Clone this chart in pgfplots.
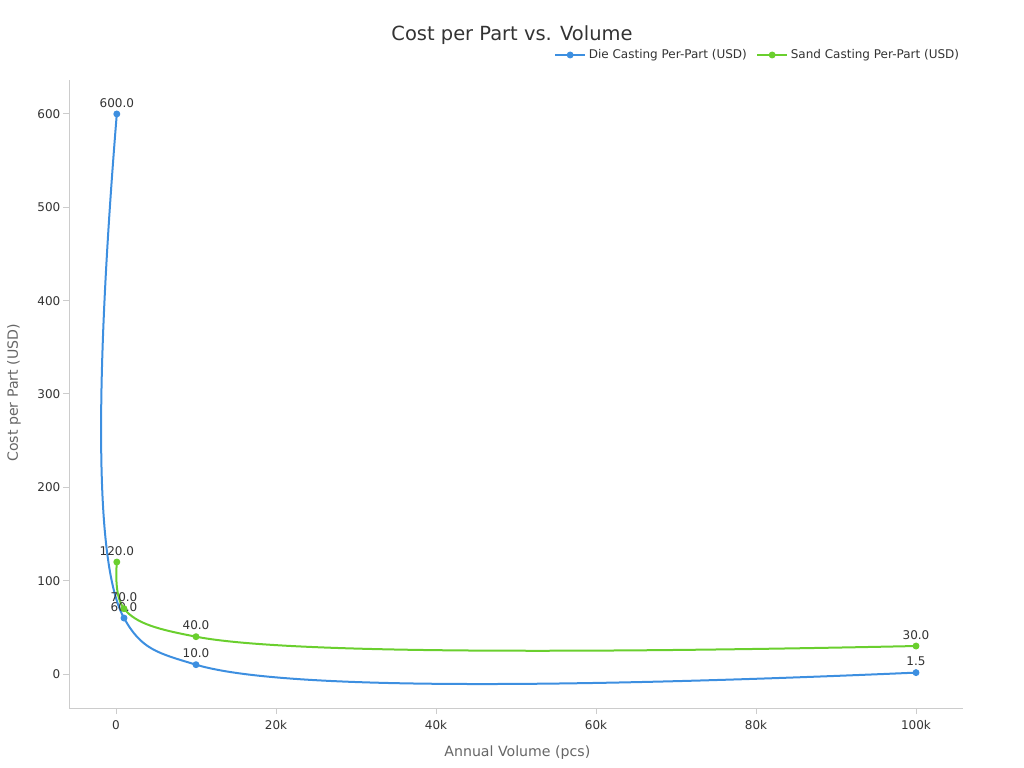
\documentclass[border=0pt]{standalone}
\usepackage{fontspec}
\setmainfont{DejaVu Sans}
\usepackage{pgfplots}
\pgfplotsset{compat=1.18}
\definecolor{dieblue}{HTML}{3D8FE0}
\definecolor{sandgreen}{HTML}{6ACF2E}
\definecolor{axgray}{HTML}{CCCCCC}
\definecolor{txt}{HTML}{333333}
\definecolor{lbl}{HTML}{666666}

% centripetal Catmull-Rom plot handler (same curve shape as the original chart's spline)
\makeatletter
\ExplSyntaxOn
\seq_new:N \g_ps_x_seq
\seq_new:N \g_ps_y_seq
\seq_new:N \g_ps_inx_seq
\seq_new:N \g_ps_iny_seq
\seq_new:N \g_ps_outx_seq
\seq_new:N \g_ps_outy_seq
\int_new:N \l_ps_n_int
\fp_new:N \l_ps_px_fp
\fp_new:N \l_ps_py_fp
\fp_new:N \l_ps_ax_fp
\fp_new:N \l_ps_ay_fp
\fp_new:N \l_ps_bx_fp
\fp_new:N \l_ps_by_fp
\fp_new:N \l_ps_da_fp
\fp_new:N \l_ps_db_fp
\fp_new:N \l_ps_nx_fp
\fp_new:N \l_ps_ny_fp
\fp_new:N \l_ps_dena_fp
\fp_new:N \l_ps_denb_fp
\fp_new:N \l_ps_s_fp
\fp_set:Nn \l_ps_s_fp { 1 }
\cs_new_protected:Npn \psStart
  {
    \seq_gclear:N \g_ps_x_seq
    \seq_gclear:N \g_ps_y_seq
    \seq_gclear:N \g_ps_inx_seq
    \seq_gclear:N \g_ps_iny_seq
    \seq_gclear:N \g_ps_outx_seq
    \seq_gclear:N \g_ps_outy_seq
  }
\cs_new_protected:Npn \psPoint #1
  {
    \pgf@process{#1}
    \seq_gput_right:Nx \g_ps_x_seq { \dim_to_decimal:n { \pgf@x } }
    \seq_gput_right:Nx \g_ps_y_seq { \dim_to_decimal:n { \pgf@y } }
  }
\cs_new_protected:Npn \ps_tangent:n #1
  {
    \fp_set:Nn \l_ps_px_fp { \seq_item:Nn \g_ps_x_seq {#1} }
    \fp_set:Nn \l_ps_py_fp { \seq_item:Nn \g_ps_y_seq {#1} }
    \fp_set:Nn \l_ps_ax_fp { \seq_item:Nn \g_ps_x_seq {#1-1} - \l_ps_px_fp }
    \fp_set:Nn \l_ps_ay_fp { \seq_item:Nn \g_ps_y_seq {#1-1} - \l_ps_py_fp }
    \fp_set:Nn \l_ps_bx_fp { \seq_item:Nn \g_ps_x_seq {#1+1} - \l_ps_px_fp }
    \fp_set:Nn \l_ps_by_fp { \seq_item:Nn \g_ps_y_seq {#1+1} - \l_ps_py_fp }
    \fp_set:Nn \l_ps_da_fp { ( \l_ps_ax_fp * \l_ps_ax_fp + \l_ps_ay_fp * \l_ps_ay_fp ) ^ ( 0.25 ) }
    \fp_set:Nn \l_ps_db_fp { ( \l_ps_bx_fp * \l_ps_bx_fp + \l_ps_by_fp * \l_ps_by_fp ) ^ ( 0.25 ) }
    \fp_set:Nn \l_ps_nx_fp
      { ( \l_ps_db_fp * \l_ps_db_fp * \l_ps_ax_fp - \l_ps_da_fp * \l_ps_da_fp * \l_ps_bx_fp ) * \l_ps_s_fp }
    \fp_set:Nn \l_ps_ny_fp
      { ( \l_ps_db_fp * \l_ps_db_fp * \l_ps_ay_fp - \l_ps_da_fp * \l_ps_da_fp * \l_ps_by_fp ) * \l_ps_s_fp }
    \fp_set:Nn \l_ps_dena_fp { 3 * \l_ps_db_fp * ( \l_ps_da_fp + \l_ps_db_fp ) }
    \fp_set:Nn \l_ps_denb_fp { 3 * \l_ps_da_fp * ( \l_ps_da_fp + \l_ps_db_fp ) }
    \seq_gput_right:Nx \g_ps_inx_seq
      { \fp_eval:n { round ( \l_ps_px_fp + \l_ps_nx_fp / \l_ps_dena_fp , 4 ) } }
    \seq_gput_right:Nx \g_ps_iny_seq
      { \fp_eval:n { round ( \l_ps_py_fp + \l_ps_ny_fp / \l_ps_dena_fp , 4 ) } }
    \seq_gput_right:Nx \g_ps_outx_seq
      { \fp_eval:n { round ( \l_ps_px_fp - \l_ps_nx_fp / \l_ps_denb_fp , 4 ) } }
    \seq_gput_right:Nx \g_ps_outy_seq
      { \fp_eval:n { round ( \l_ps_py_fp - \l_ps_ny_fp / \l_ps_denb_fp , 4 ) } }
  }
\cs_new:Npn \ps_pt:n #1
  { \pgfqpoint { \seq_item:Nn \g_ps_x_seq {#1} pt } { \seq_item:Nn \g_ps_y_seq {#1} pt } }
\cs_new:Npn \ps_in:n #1
  { \pgfqpoint { \seq_item:Nn \g_ps_inx_seq {#1} pt } { \seq_item:Nn \g_ps_iny_seq {#1} pt } }
\cs_new:Npn \ps_out:n #1
  { \pgfqpoint { \seq_item:Nn \g_ps_outx_seq {#1} pt } { \seq_item:Nn \g_ps_outy_seq {#1} pt } }
\cs_new_protected:Npn \psEnd
  {
    \int_set:Nn \l_ps_n_int { \seq_count:N \g_ps_x_seq }
    \int_compare:nNnTF { \l_ps_n_int } < { 3 }
      {
        \int_compare:nNnT { \l_ps_n_int } > { 0 }
          {
            \pgf@plot@first@action { \ps_pt:n { 1 } }
            \int_step_inline:nnn { 2 } { \l_ps_n_int }
              { \pgfpathlineto { \ps_pt:n { ##1 } } }
          }
      }
      {
        \int_step_inline:nnn { 2 } { \l_ps_n_int - 1 } { \ps_tangent:n { ##1 } }
        \pgf@plot@first@action { \ps_pt:n { 1 } }
        \pgfpathquadraticcurveto { \ps_in:n { 1 } } { \ps_pt:n { 2 } }
        \int_step_inline:nnn { 3 } { \l_ps_n_int - 1 }
          { \pgfpathcurveto { \ps_out:n { ##1 - 2 } } { \ps_in:n { ##1 - 1 } } { \ps_pt:n { ##1 } } }
        \pgfpathquadraticcurveto { \ps_out:n { \l_ps_n_int - 2 } } { \ps_pt:n { \l_ps_n_int } }
      }
  }
\ExplSyntaxOff
\def\pgfplothandlerplotlyspline{%
  \def\pgf@plotstreamstart{%
    \psStart
    \global\let\pgf@plotstreampoint=\psPoint
    \global\let\pgf@plotstreamspecial=\pgfutil@gobble
    \global\let\pgf@plotstreamend=\psEnd
  }%
}
\tikzset{plotly spline/.code={\let\tikz@plot@handler=\pgfplothandlerplotlyspline}}
\makeatother

\begin{document}
\begin{tikzpicture}
\begin{axis}[
    scale only axis,
    width=670.5bp, height=471bp,
    xmin=-5875, xmax=105875,
    ymin=-36.4, ymax=636.4,
    axis lines*=left,
    axis line style={axgray, line width=0.75bp},
    tick style={axgray, line width=0.75bp},
    tick align=outside,
    major tick length=4.5bp,
    xtick={0,20000,40000,60000,80000,100000},
    xticklabels={0,20k,40k,60k,80k,100k},
    ytick={0,100,...,600},
    scaled x ticks=false,
    ticklabel style={font=\fontsize{9bp}{10bp}\selectfont, text=txt},
    xticklabel style={yshift=-1.5bp},
    yticklabel style={xshift=1.5bp},
    /pgf/number format/assume math mode=true,
    xlabel={Annual Volume (pcs)},
    ylabel={Cost per Part (USD)},
    label style={font=\fontsize{10.6bp}{12bp}\selectfont, text=lbl},
    xlabel style={at={(axis description cs:0.5015,0)}, anchor=center, yshift=-33.75bp},
    ylabel style={at={(axis description cs:-0.0615,0.5016)}, anchor=center, rotate=0},
    legend style={at={(672.75bp,489.75bp)}, anchor=east, draw=none, fill=none,
        font=\fontsize{9bp}{10bp}\selectfont, text=txt,
        /tikz/every even column/.append style={column sep=5bp}},
    legend columns=2,
    legend cell align=left,
    legend image code/.code={
        \draw[#1, mark=none] (0bp,0bp) -- (22.5bp,0bp);
        \fill[#1] (11.25bp,0bp) circle (1.8bp);
    },
    nodes near coords,
    point meta=explicit symbolic,
    every node near coord/.append style={font=\fontsize{9bp}{10bp}\selectfont, text=txt, inner sep=2bp, yshift=2.25bp},
    clip=false,
]
\addplot[dieblue, line width=1.5bp, plotly spline, mark=*, mark size=1.8bp, mark options={fill=dieblue, draw=dieblue}]
  table[meta=l] {
x y l
100 600 600.0
1000 60 60.0
10000 10 10.0
100000 1.5 1.5
};
\addlegendentry{Die Casting Per-Part (USD)}
\addplot[sandgreen, line width=1.5bp, plotly spline, mark=*, mark size=1.8bp, mark options={fill=sandgreen, draw=sandgreen}]
  table[meta=l] {
x y l
100 120 120.0
1000 70 70.0
10000 40 40.0
100000 30 30.0
};
\addlegendentry{Sand Casting Per-Part (USD)}
\end{axis}
\node[font=\fontsize{14.6bp}{16bp}\selectfont, text=txt] at (332.25bp,504.75bp) {Cost per Part vs. Volume};
\pgfresetboundingbox
\path[use as bounding box] (-51.75bp,-45bp) rectangle (716.25bp,531bp);
\end{tikzpicture}
\end{document}
